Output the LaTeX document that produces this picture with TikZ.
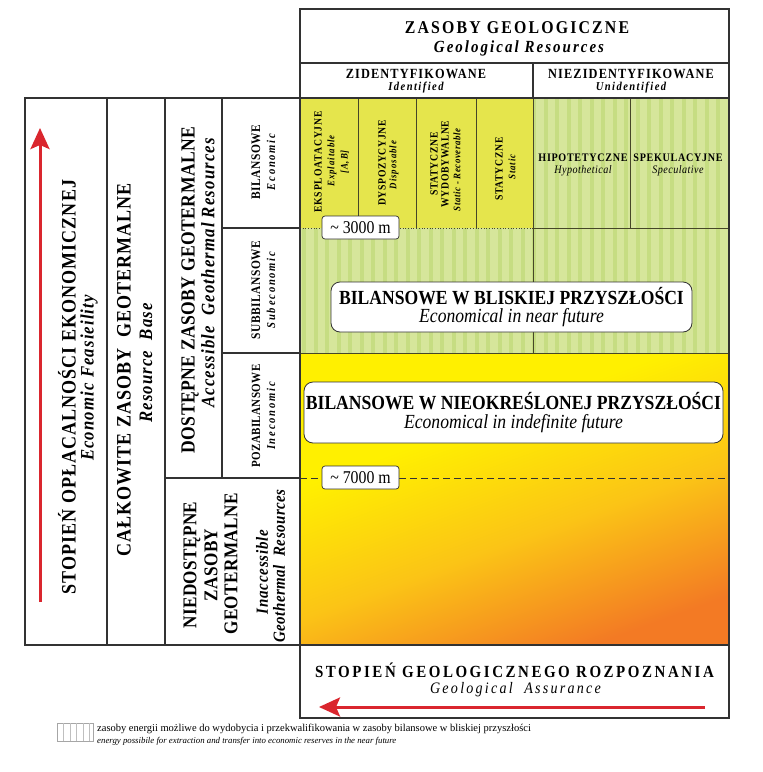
\documentclass[tikz,border=0pt]{standalone}
\usepackage{fontspec}
\setmainfont{Liberation Serif}[FakeStretch=0.88]
\newfontfamily\legfont{Liberation Serif}
\usetikzlibrary{arrows.meta}
\definecolor{frame}{RGB}{50,50,50}
\definecolor{ybox}{RGB}{229,229,76}
\definecolor{gbase}{RGB}{214,230,155}
\definecolor{gstripe}{RGB}{198,221,130}
\definecolor{gyel}{RGB}{255,240,0}
\definecolor{gmid}{RGB}{251,196,22}
\definecolor{gora}{RGB}{243,122,36}
\definecolor{ared}{RGB}{218,38,46}
\definecolor{olive}{RGB}{70,70,40}
\pgfdeclareverticalshading{geograd}{100bp}{color(0bp)=(gora); color(25bp)=(gora); color(44bp)=(gmid); color(63bp)=(gyel); color(100bp)=(gyel)}
\tikzset{
  frm/.style={draw=frame, line width=1.2pt},
  thin line/.style={draw=olive, line width=0.7pt},
  vt/.style={rotate=90, inner sep=0pt},
  ht/.style={inner sep=0pt},
  fB/.style args={#1/#2}{font=\bfseries\fontsize{#1}{#1}\selectfont\addfontfeature{LetterSpace=#2}},
  fI/.style args={#1/#2}{font=\bfseries\itshape\fontsize{#1}{#1}\selectfont\addfontfeature{LetterSpace=#2}},
  fi/.style args={#1/#2}{font=\itshape\fontsize{#1}{#1}\selectfont\addfontfeature{LetterSpace=#2}},
  rbox/.style={draw=frame, fill=white, rounded corners=9pt, line width=0.8pt, inner sep=0pt, align=center},
  depthbox/.style={draw=frame, fill=white, rounded corners=3pt, line width=0.7pt, inner sep=0pt,
     minimum width=77pt, minimum height=23pt, font=\fontsize{18}{18}\selectfont},
  redarrow/.style={draw=ared, line width=3pt, -{Stealth[length=21pt,width=19pt,inset=4pt]}}
}
\begin{document}
\begin{tikzpicture}[x=1pt,y=-1pt]
\useasboundingbox (0,0) rectangle (763,772);
% ---------- fills ----------
\fill[ybox] (300,98) rectangle (533,228);
\fill[gbase] (533,98) rectangle (729,228);
\fill[gbase] (300,228) rectangle (729,353);
\begin{scope}
  \clip (533,98) rectangle (729,228) (300,228) rectangle (729,353);
  \foreach \i in {0,...,38} \fill[gstripe] (302+\i*11.5,98) rectangle ++(4,255);
\end{scope}
\shade[shading=geograd, shading angle=20] (300,353) rectangle (729,645);
% ---------- inner lines of the coloured area ----------
\draw[thin line] (358,98) -- (358,228);
\draw[thin line] (416,98) -- (416,228);
\draw[thin line] (476,98) -- (476,228);
\draw[thin line] (630,98) -- (630,228);
\draw[thin line] (533,98) -- (533,353);
\draw[thin line, dotted] (300,228) -- (533,228);
\draw[thin line] (533,228) -- (729,228);
\draw[thin line] (300,353) -- (729,353);
\draw[draw=frame, line width=0.8pt, dash pattern=on 7pt off 4pt] (300,478) -- (729,478);
% ---------- frame ----------
\draw[frm] (25,98) -- (300,98) -- (300,9) -- (729,9) -- (729,718) -- (300,718) -- (300,645) -- (25,645) -- cycle;
\draw[frm] (300,63) -- (729,63);
\draw[frm] (300,98) -- (729,98);
\draw[frm] (533,63) -- (533,98);
\draw[frm] (300,98) -- (300,645);
\draw[frm] (300,645) -- (729,645);
\draw[frm] (107,98) -- (107,645);
\draw[frm] (165,98) -- (165,645);
\draw[frm] (222,98) -- (222,478);
\draw[frm] (165,478) -- (300,478);
\draw[frm] (222,228) -- (300,228);
\draw[frm] (222,353) -- (300,353);
% ---------- header ----------
\node[ht, fB=18/12] (hz) at (517,28) {ZASOBY GEOLOGICZNE};
\node[ht, fI=17/12] (hze) at (519,48) {Geological Resources};
\node[ht, fB=14/8] (hid) at (416,74) {ZIDENTYFIKOWANE};
\node[ht, fI=12/12] (hide) at (416,88) {Identified};
\node[ht, fB=14/8] (hun) at (631,74) {NIEZIDENTYFIKOWANE};
\node[ht, fI=12/12] (hune) at (631,88) {Unidentified};
% ---------- yellow band labels ----------
\node[vt, fB=11/8] (ek1) at (318,162) {EKSPLOATACYJNE};
\node[vt, fI=10/10] (ek2) at (332,161) {Explaitable};
\node[vt, fI=10/10] (ek3) at (345,162) {[A,B]};
\node[vt, fB=11/6] (dy1) at (382,163) {DYSPOZYCYJNE};
\node[vt, fI=10/10] (dy2) at (394,165) {Disposable};
\node[vt, fB=11/6] (sw1) at (434,164) {STATYCZNE};
\node[vt, fB=11/6] (sw2) at (445,164) {WYDOBYWALNE};
\node[vt, fI=10/6] (sw3) at (457,170) {Static - Recoverable};
\node[vt, fB=11/6] (st1) at (499,169) {STATYCZNE};
\node[vt, fI=10/10] (st2) at (512,167) {Static};
\node[ht, fB=11.5/6] (hp1) at (583,158) {HIPOTETYCZNE};
\node[ht, fi=11.5/4] (hp2) at (583,171) {Hypothetical};
\node[ht, fB=11.5/6] (sp1) at (678,158) {SPEKULACYJNE};
\node[ht, fi=11.5/4] (sp2) at (678,171) {Speculative};
% ---------- depth boxes ----------
\node[depthbox] (d3) at (360.5,227.5) {\textasciitilde\ 3000 m};
\node[depthbox] (d7) at (360.5,477.5) {\textasciitilde\ 7000 m};
% ---------- rounded boxes ----------
\node[rbox, minimum width=361pt, minimum height=50pt] (bb) at (511.5,307)
  {{\bfseries\fontsize{20}{20}\selectfont BILANSOWE W BLISKIEJ PRZYSZŁOŚCI}\\[3pt]
   {\itshape\fontsize{20}{20}\selectfont Economical in near future}};
\node[rbox, minimum width=419pt, minimum height=61pt] (bn) at (513.5,412.5)
  {{\bfseries\fontsize{20}{20}\selectfont BILANSOWE W NIEOKREŚLONEJ PRZYSZŁOŚCI}\\[4pt]
   {\itshape\fontsize{20}{20}\selectfont Economical in indefinite future}};
% ---------- left columns ----------
\node[vt, fB=20.5/5] (c1a) at (67,387) {STOPIEŃ OPŁACALNOŚCI EKONOMICZNEJ};
\node[vt, fI=19/6] (c1b) at (89,378) {Economic Feasieility};
\node[vt, fB=20.5/5] (c2a) at (124,370) {CAŁKOWITE ZASOBY\ \ GEOTERMALNE};
\node[vt, fI=19/6] (c2b) at (146,363) {Resource\ \ Base};
\node[vt, fB=20/2] (c3a) at (190,290) {DOSTĘPNE ZASOBY GEOTERMALNE};
\node[vt, fI=19/6] (c3b) at (208,273) {Accessible\ \ Geothermal Resources};
\node[vt, fB=13/4] (c4a) at (256,162) {BILANSOWE};
\node[vt, fI=12/15] (c4b) at (271,162) {Economic};
\node[vt, fB=13/4] (c4c) at (256,290) {SUBBILANSOWE};
\node[vt, fI=12/15] (c4d) at (271,290) {Subeconomic};
\node[vt, fB=12.5/3] (c4e) at (256,416) {POZABILANSOWE};
\node[vt, fI=12/15] (c4f) at (271,416) {Ineconomic};
\node[vt, fB=19.5/2] (n1) at (192,565) {NIEDOSTĘPNE};
\node[vt, fB=19.5/2] (n2) at (211,565) {ZASOBY};
\node[vt, fB=19.5/2] (n3) at (231,564) {GEOTERMALNE};
\node[vt, fI=17/5] (n4) at (262,572) {Inaccessible};
\node[vt, fI=17/3] (n5) at (279,566) {Geothermal\ \ Resources};
% ---------- bottom ----------
\node[ht, fB=17/15] (ga) at (514.5,670) {STOPIEŃ GEOLOGICZNEGO ROZPOZNANIA};
\node[ht, fi=16/14] (gae) at (515.5,690) {Geological\ \ Assurance};
% ---------- arrows ----------
\coordinate (la0) at (40,602);
\coordinate (la1) at (40,128);
\draw[redarrow] (la0) -- (la1);
\coordinate (ba0) at (705,707);
\coordinate (ba1) at (319,707);
\draw[redarrow] (ba0) -- (ba1);
% ---------- legend ----------
\draw[draw=gray!70, fill=white, line width=0.6pt] (57,723) rectangle (93,741);
\foreach \x in {63.5,70,76.5,83,89.5} \draw[gray!50, line width=0.6pt] (\x,723) -- (\x,741);
\node[ht, anchor=west, font=\legfont\fontsize{10.5}{10.5}\selectfont] (lg1) at (97,729) {zasoby energii możliwe do wydobycia i przekwalifikowania w zasoby bilansowe w bliskiej przyszłości};
\node[ht, anchor=west, font=\legfont\itshape\fontsize{8.8}{8.8}\selectfont] (lg2) at (97,741) {energy possibile for extraction and transfer into economic reserves in the near future};
\end{tikzpicture}
\end{document}
